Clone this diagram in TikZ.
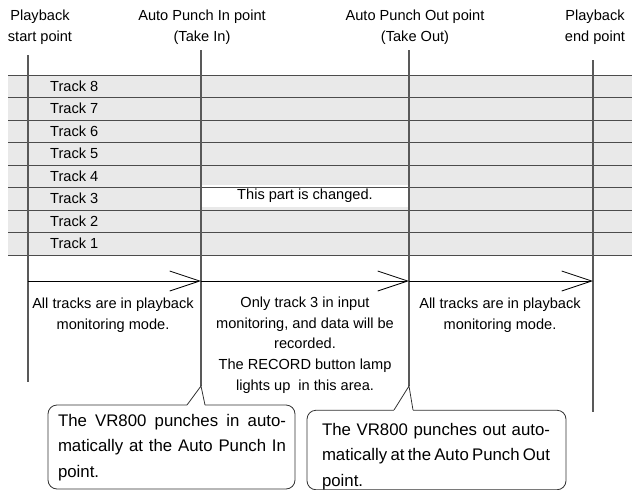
\documentclass[tikz,border=0pt]{standalone}
\usepackage{fontspec}
\setmainfont{Liberation Sans}
\usetikzlibrary{arrows.meta}
\newcommand\calloutfont{\fontsize{16.8}{25.5}\selectfont\spaceskip=0.278em plus 0.3em minus 0.16em\relax}

\begin{document}
\begin{tikzpicture}[
  x=1pt, y=-1pt,
  every node/.style={font=\fontsize{14.6}{20.7}\selectfont, inner sep=0pt},
  band/.style={fill=gray!17},
  rowline/.style={draw=black!70, line width=1pt},
  marker/.style={draw=black!65, line width=1.2pt},
  span arrow/.style={-{Straight Barb[length=30pt, width=20pt, line width=0.8pt]}, line width=0.8pt},
  callout box/.style={draw=black!80, line width=0.8pt, rounded corners=9pt, fill=white},
  callout text/.style={text width=228, align=justify, font=\calloutfont}
]
\useasboundingbox (0,0) rectangle (632,490);

% Track band
\fill[band] (8,75) rectangle (632,255);
\fill[white] (201,185) rectangle (409,207);
\foreach \i in {0,...,8}
  \draw[rowline] (8,75+\i*22.5) -- (632,75+\i*22.5);
\foreach \i in {1,...,8}
  \node[anchor=west] (track\i) at (50,255-\i*22.5+11.25) {Track \i};
\node (changed) at (305,196) {This part is changed.};

% Point labels
\node[align=center] (startlbl) at (40,27) {Playback\\start point};
\node[align=center] (inlbl) at (202,27) {Auto Punch In point\\(Take In)};
\node[align=center] (outlbl) at (415,27) {Auto Punch Out point\\(Take Out)};
\node[align=center] (endlbl) at (595,27) {Playback\\end point};

% Marker lines
\coordinate (startTop) at (28,55);  \coordinate (startBot) at (28,382);
\coordinate (inTop) at (201,50);    \coordinate (inTip) at (201,386);
\coordinate (outTop) at (409,50);   \coordinate (outTip) at (409,386);
\coordinate (endTop) at (593,60);   \coordinate (endBot) at (593,412);
\draw[marker] (startTop) -- (startBot);
\draw[marker] (inTop) -- (inTip);
\draw[marker] (outTop) -- (outTip);
\draw[marker] (endTop) -- (endBot);

% Callouts
\node[callout box, minimum width=247, minimum height=84] (inbox) at (171.5,447) {};
\node[callout text] (intext) at (172,447.5)
  {The VR800 punches in auto-\linebreak matically at the Auto Punch In\linebreak point.};
\node[callout box, minimum width=259, minimum height=79.5] (outbox) at (436.5,450) {};
\node[callout text] (outtext) at (436,456.5)
  {The VR800 punches out auto-\linebreak matically at the Auto Punch Out\linebreak point.};

% Callout pointers
\coordinate (inA) at (187,405);  \coordinate (inB) at (205,405);
\coordinate (outA) at (394,410); \coordinate (outB) at (413,410);
\draw[white, line width=1.6pt] (inA) -- (inB);
\draw[black!80, line width=0.8pt] (inA) -- (inTip) -- (inB);
\draw[white, line width=1.6pt] (outA) -- (outB);
\draw[black!80, line width=0.8pt] (outA) -- (outTip) -- (outB);

% Spans
\coordinate (a0) at (28,281);
\coordinate (a1) at (201,281);
\coordinate (a2) at (409,281);
\coordinate (a3) at (593,281);
\draw[span arrow] (a0) -- (a1);
\draw[span arrow] (a1) -- (a2);
\draw[span arrow] (a2) -- (a3);

\node[align=center] (playA) at (113,315) {All tracks are in playback\\monitoring mode.};
\node[align=center] (input) at (305,345) {Only track 3 in input\\monitoring, and data will be\\recorded.\\The RECORD button lamp\\lights up\ \ in this area.};
\node[align=center] (playB) at (500,315) {All tracks are in playback\\monitoring mode.};
\end{tikzpicture}
\end{document}
